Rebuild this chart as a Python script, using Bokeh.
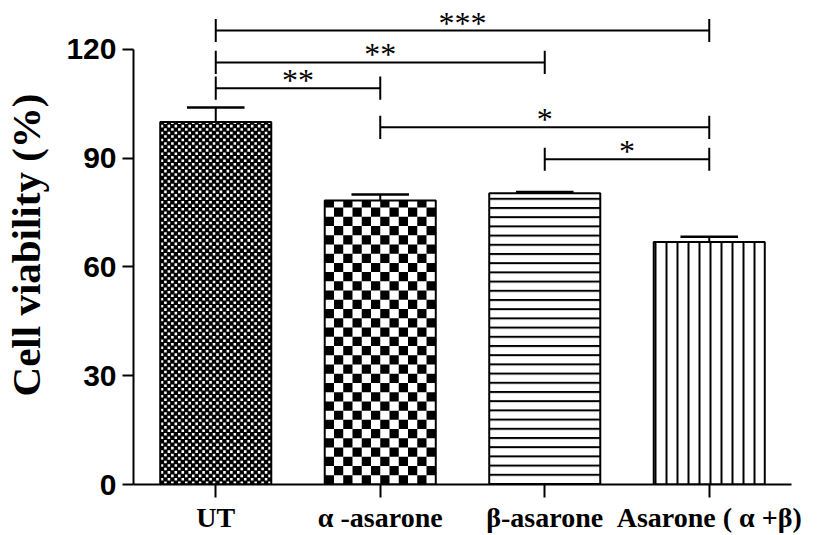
import math
from bokeh.plotting import figure
from bokeh.models import Range1d, FixedTicker
from bokeh.core.properties import value
from bokeh.embed import file_html
from bokeh.resources import INLINE

# ---------------- data ----------------
categories = ["UT", "α -asarone", "β-asarone", "Asarone ( α +β)"]
viability = [100.0, 78.3, 80.3, 66.9]
sem = [4.0, 1.7, 0.4, 1.4]
y_ticks = [0, 30, 60, 90, 120]

# significance brackets (category indices and bracket height in % units)
sig_start = [0, 0, 0, 1, 2]
sig_end = [3, 2, 1, 3, 3]
sig_level = [125.2, 116.4, 109.3, 98.5, 89.7]
sig_label = ["***", "**", "**", "*", "*"]

# ---------------- styling ----------------
W, H = 832, 535
LEFT, RIGHT, TOP, BOTTOM = 133, 41, 5, 50
X_MIN, X_MAX = -0.5, 3.5
Y_MIN, Y_MAX = 0, 132.1
PX_X = (W - LEFT - RIGHT) / (X_MAX - X_MIN)
PX_Y = (H - TOP - BOTTOM) / (Y_MAX - Y_MIN)

fill_style = ["checker", "checker", "horizontal_line", "vertical_line"]
checker_cols = [32, 12, 0, 0]
checker_grow_px = [0.45, 0.0, 0, 0]
hatch_scale = [1, 1, 9.2, 11]
BAR_W = 0.675
CAP_W = 0.35
TICK_HALF = 3.2

idx = list(range(len(categories)))

p = figure(width=W, height=H, output_backend="svg", toolbar_location=None,
           x_range=Range1d(X_MIN, X_MAX), y_range=Range1d(Y_MIN, Y_MAX),
           min_border_left=LEFT, min_border_right=RIGHT, min_border_top=TOP,
           min_border_bottom=BOTTOM)
p.outline_line_color = None
p.xgrid.visible = False
p.ygrid.visible = False
p.background_fill_color = "white"
p.border_fill_color = "white"

# bar fills
for i in idx:
    if fill_style[i] == "checker":
        p.vbar(x=[i], top=[viability[i]], width=BAR_W, bottom=0,
               fill_color="white", line_color=None)
        ncols = checker_cols[i]
        cw = BAR_W / ncols
        ch = cw * PX_X / PX_Y
        gx = checker_grow_px[i] / PX_X
        gy = checker_grow_px[i] / PX_Y
        nrows = int(math.ceil(viability[i] / ch))
        left0 = i - BAR_W / 2
        L, R, B, T = [], [], [], []
        for r in range(nrows):
            for c in range(ncols):
                if (r + c) % 2 == 0:
                    L.append(max(left0 + c * cw - gx, left0))
                    R.append(min(left0 + (c + 1) * cw + gx, left0 + BAR_W))
                    B.append(max(r * ch - gy, 0))
                    T.append(min((r + 1) * ch + gy, viability[i]))
        p.quad(left=L, right=R, bottom=B, top=T, fill_color="black", line_color=None)
    else:
        p.vbar(x=[i], top=[viability[i]], width=BAR_W, bottom=0,
               fill_color="white", line_color=None,
               hatch_pattern=fill_style[i], hatch_scale=hatch_scale[i],
               hatch_weight=2, hatch_color="black")

# bar outlines
p.vbar(x=idx, top=viability, width=BAR_W, bottom=0, fill_color=None,
       line_color="black", line_width=2)

# error bars (upper only)
upper = [v + s for v, s in zip(viability, sem)]
p.segment(x0=idx, y0=viability, x1=idx, y1=upper, line_color="black", line_width=2)
p.segment(x0=[i - CAP_W / 2 for i in idx], y0=upper,
          x1=[i + CAP_W / 2 for i in idx], y1=upper,
          line_color="black", line_width=2.5)

# significance brackets
p.segment(x0=sig_start, y0=sig_level, x1=sig_end, y1=sig_level,
          line_color="black", line_width=2)
p.segment(x0=sig_start, y0=[y - TICK_HALF for y in sig_level],
          x1=sig_start, y1=[y + TICK_HALF for y in sig_level],
          line_color="black", line_width=2)
p.segment(x0=sig_end, y0=[y - TICK_HALF for y in sig_level],
          x1=sig_end, y1=[y + TICK_HALF for y in sig_level],
          line_color="black", line_width=2)
p.text(x=[(a + b) / 2 for a, b in zip(sig_start, sig_end)], y=sig_level,
       text=sig_label, text_align="center", text_baseline="middle",
       y_offset=-8, text_font=value("Liberation Serif"), text_font_size="32px",
       text_color="black")

# axes
xa = p.xaxis[0]
xa.ticker = FixedTicker(ticks=idx)
xa.major_label_overrides = {i: c for i, c in zip(idx, categories)}
xa.major_tick_out = 13
xa.major_tick_in = 0
xa.minor_tick_line_color = None
xa.axis_line_width = 2
xa.major_tick_line_width = 2
xa.major_label_text_font = "Liberation Serif"
xa.major_label_text_font_style = "bold"
xa.major_label_text_font_size = "28px"
xa.major_label_text_color = "black"
xa.major_label_standoff = 4

ya = p.yaxis[0]
ya.ticker = FixedTicker(ticks=y_ticks)
ya.bounds = (0, 120)
ya.major_tick_out = 11
ya.major_tick_in = 0
ya.minor_tick_line_color = None
ya.axis_line_width = 2
ya.major_tick_line_width = 2
ya.major_label_text_font = "Liberation Sans"
ya.major_label_text_font_style = "bold"
ya.major_label_text_font_size = "30px"
ya.major_label_text_color = "black"
ya.major_label_standoff = 6
ya.axis_label = "Cell viability (%)"
ya.axis_label_text_font = "Liberation Serif"
ya.axis_label_text_font_style = "bold"
ya.axis_label_text_font_size = "41px"
ya.axis_label_text_color = "black"
ya.axis_label_standoff = 14

open("out.html", "w").write(file_html(p, INLINE))
